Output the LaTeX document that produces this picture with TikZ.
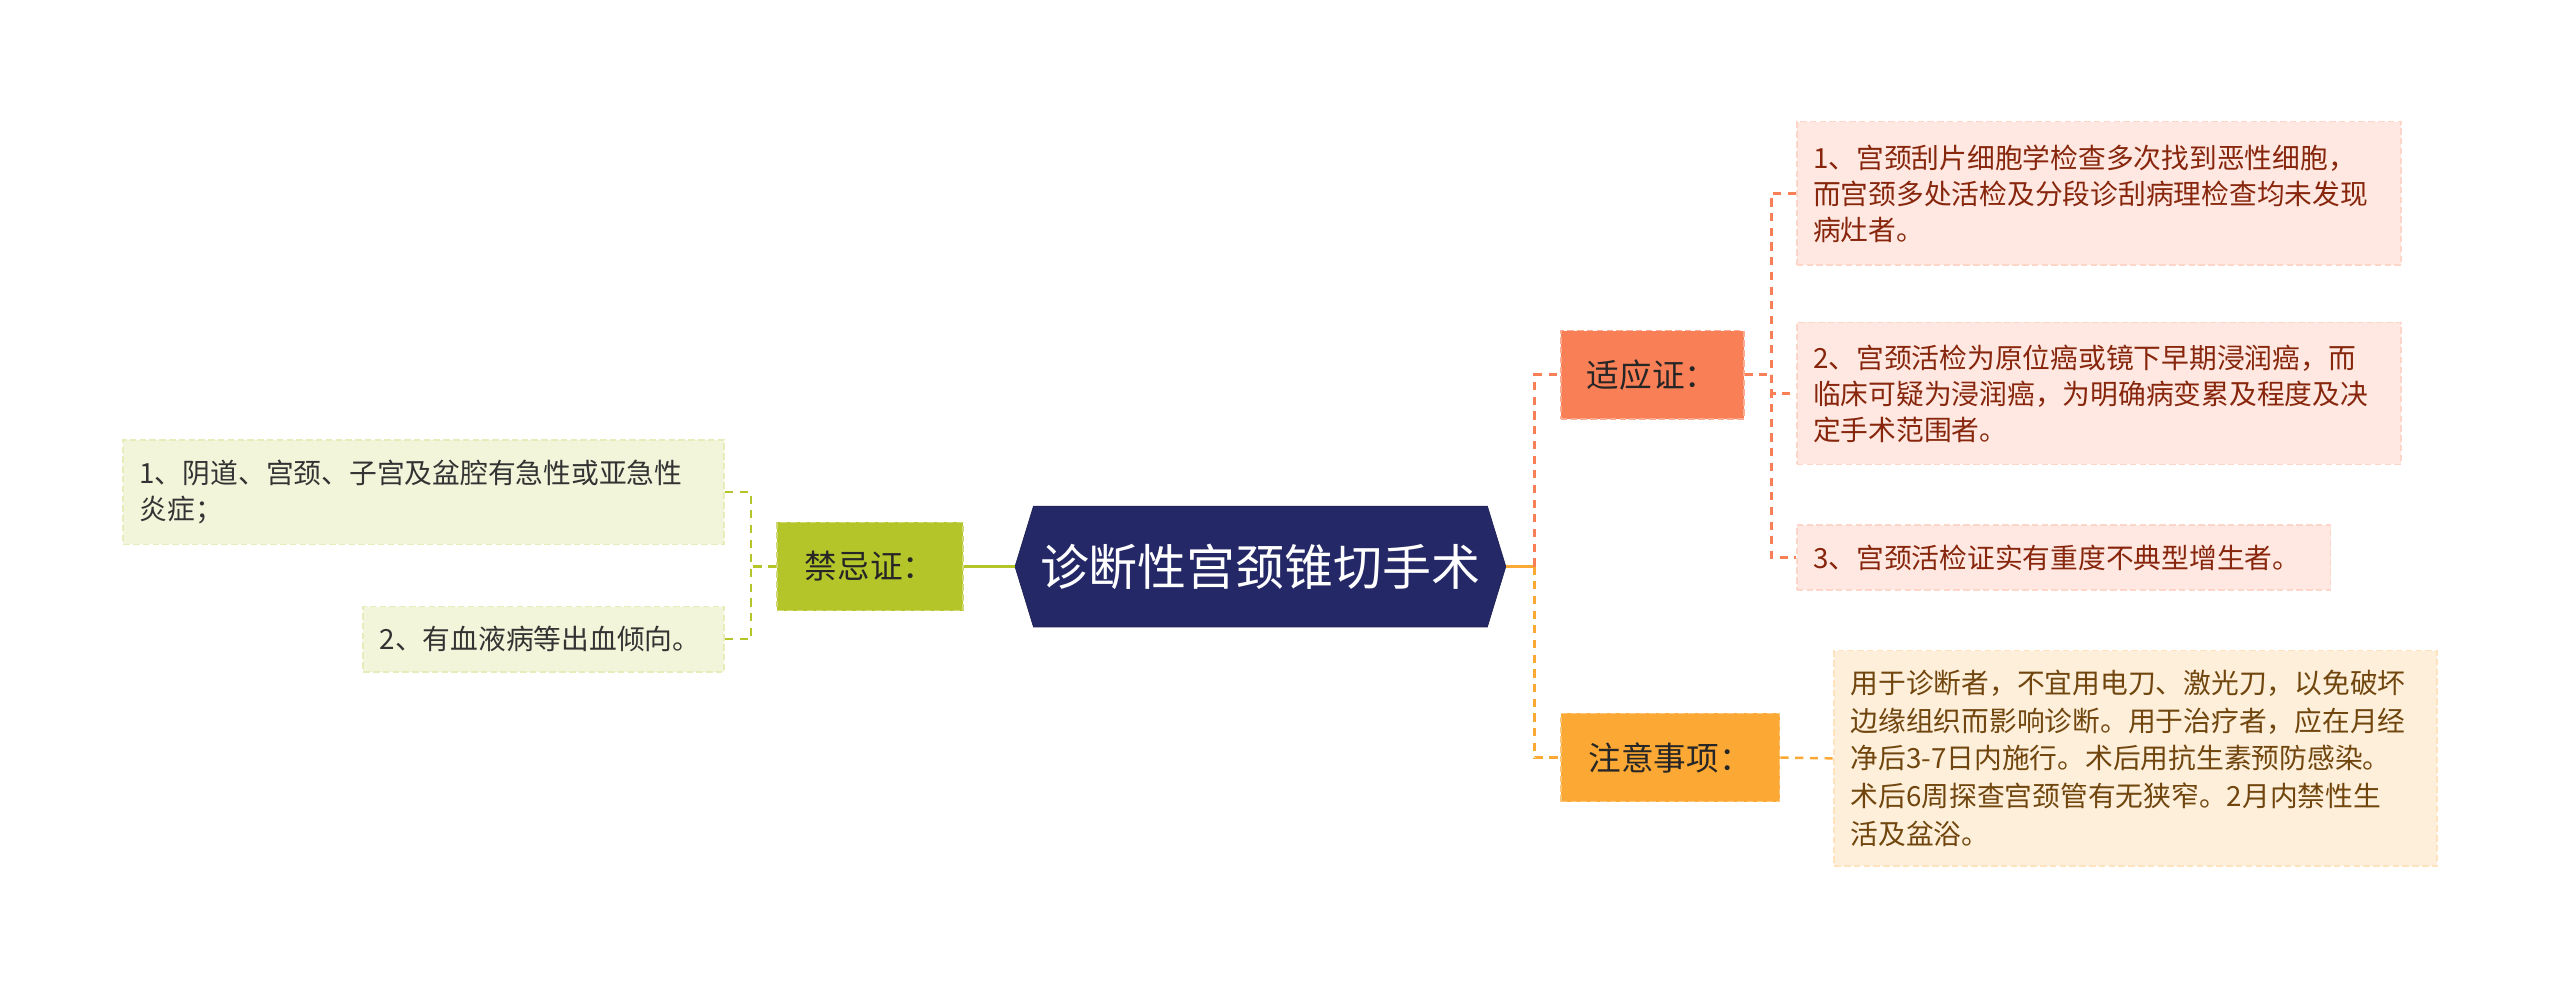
\documentclass[tikz,border=0pt]{standalone}
\usepackage{fontspec}
\setmainfont{Noto Sans CJK SC}
\usepackage{tikz}
\usetikzlibrary{shapes.symbols}
\definecolor{navy}{RGB}{36,40,102}
\definecolor{leaf}{RGB}{180,197,42}
\definecolor{coral}{RGB}{249,128,86}
\definecolor{amber}{RGB}{251,168,52}
\definecolor{rust}{RGB}{135,38,12}
\definecolor{umber}{RGB}{112,70,14}

\begin{document}
\begin{tikzpicture}[x=1pt,y=-1pt,
  every node/.style={font=\fontsize{17}{22}\selectfont},
  topic/.style={draw=#1!65!white,fill=#1,dash pattern=on 4pt off 2pt,line width=1pt,
    minimum height=54,inner xsep=12,text=black!85,font=\fontsize{20}{24}\selectfont},
  leafbox/.style={draw=#1!32,fill=#1!18,dash pattern=on 4pt off 2pt,line width=1pt,
    anchor=north west,align=left,inner xsep=10},
  glink/.style={draw=leaf,line width=1.5pt,dash pattern=on 5pt off 4pt},
  clink/.style={draw=coral,line width=1.5pt,dash pattern=on 5pt off 4pt},
  olink/.style={draw=amber,line width=1.5pt,dash pattern=on 5pt off 4pt}]
\useasboundingbox (0,0) rectangle (1568,605);

% centre
\node[signal,signal to=west and east,signal pointer angle=146,fill=navy,draw=navy!80!black,
  text=white,inner xsep=4,minimum height=74,font=\fontsize{30}{34}\selectfont] (root) at (772,347) {诊断性宫颈锥切手术};

% left side
\node[topic=leaf,minimum width=114] (jj) at (533,347) {禁忌证：};
\node[leafbox=leaf,text width=348,minimum height=64,text=black!80] (l1) at (75,269)
  {1、阴道、宫颈、子宫及盆腔有急性或亚急性\\炎症；};
\node[leafbox=leaf,text width=201,minimum height=40,text=black!80] (l2) at (222,371)
  {2、有血液病等出血倾向。};

% right side
\node[topic=coral,minimum width=112] (sy) at (1012,229.5) {适应证：};
\node[topic=amber,minimum width=134] (zy) at (1023,464) {注意事项：};
\node[leafbox=coral,text width=350,minimum height=88,text=rust] (c1) at (1100,74)
  {1、宫颈刮片细胞学检查多次找到恶性细胞，\\而宫颈多处活检及分段诊刮病理检查均未发现\\病灶者。};
\node[leafbox=coral,text width=350,minimum height=87,text=rust] (c2) at (1100,197)
  {2、宫颈活检为原位癌或镜下早期浸润癌，而\\临床可疑为浸润癌，为明确病变累及程度及决\\定手术范围者。};
\node[leafbox=coral,text width=307,minimum height=40,text=rust] (c3) at (1100,321)
  {3、宫颈活检证实有重度不典型增生者。};
\node[leafbox=amber,text width=349,minimum height=132,text=umber,
  font=\fontsize{17}{23}\selectfont] (zn) at (1123,398)
  {用于诊断者，不宜用电刀、激光刀，以免破坏\\边缘组织而影响诊断。用于治疗者，应在月经\\净后3-7日内施行。术后用抗生素预防感染。\\术后6周探查宫颈管有无狭窄。2月内禁性生\\活及盆浴。};

% connectors
\coordinate (jjb) at (460,347);
\coordinate (rb) at (940,347);
\coordinate (syb) at (1085,229.5);
\draw[leaf,line width=1.5pt] (root.west) -- (jj.east);
\draw[glink] (jj.west) -- (jjb);
\draw[glink] (l1.east) -| (jjb) |- (l2.east);
\draw[amber,line width=1.5pt] (root.east) -- (rb);
\draw[clink] (rb) |- (sy.west);
\draw[olink] (rb) |- (zy.west);
\draw[clink] (sy.east) -- (syb);
\draw[clink] (c1.west) -| (syb) |- (c3.west);
\draw[clink] (syb) |- (c2.west);
\draw[olink] (zy.east) -- (zn.west);
\end{tikzpicture}
\end{document}
